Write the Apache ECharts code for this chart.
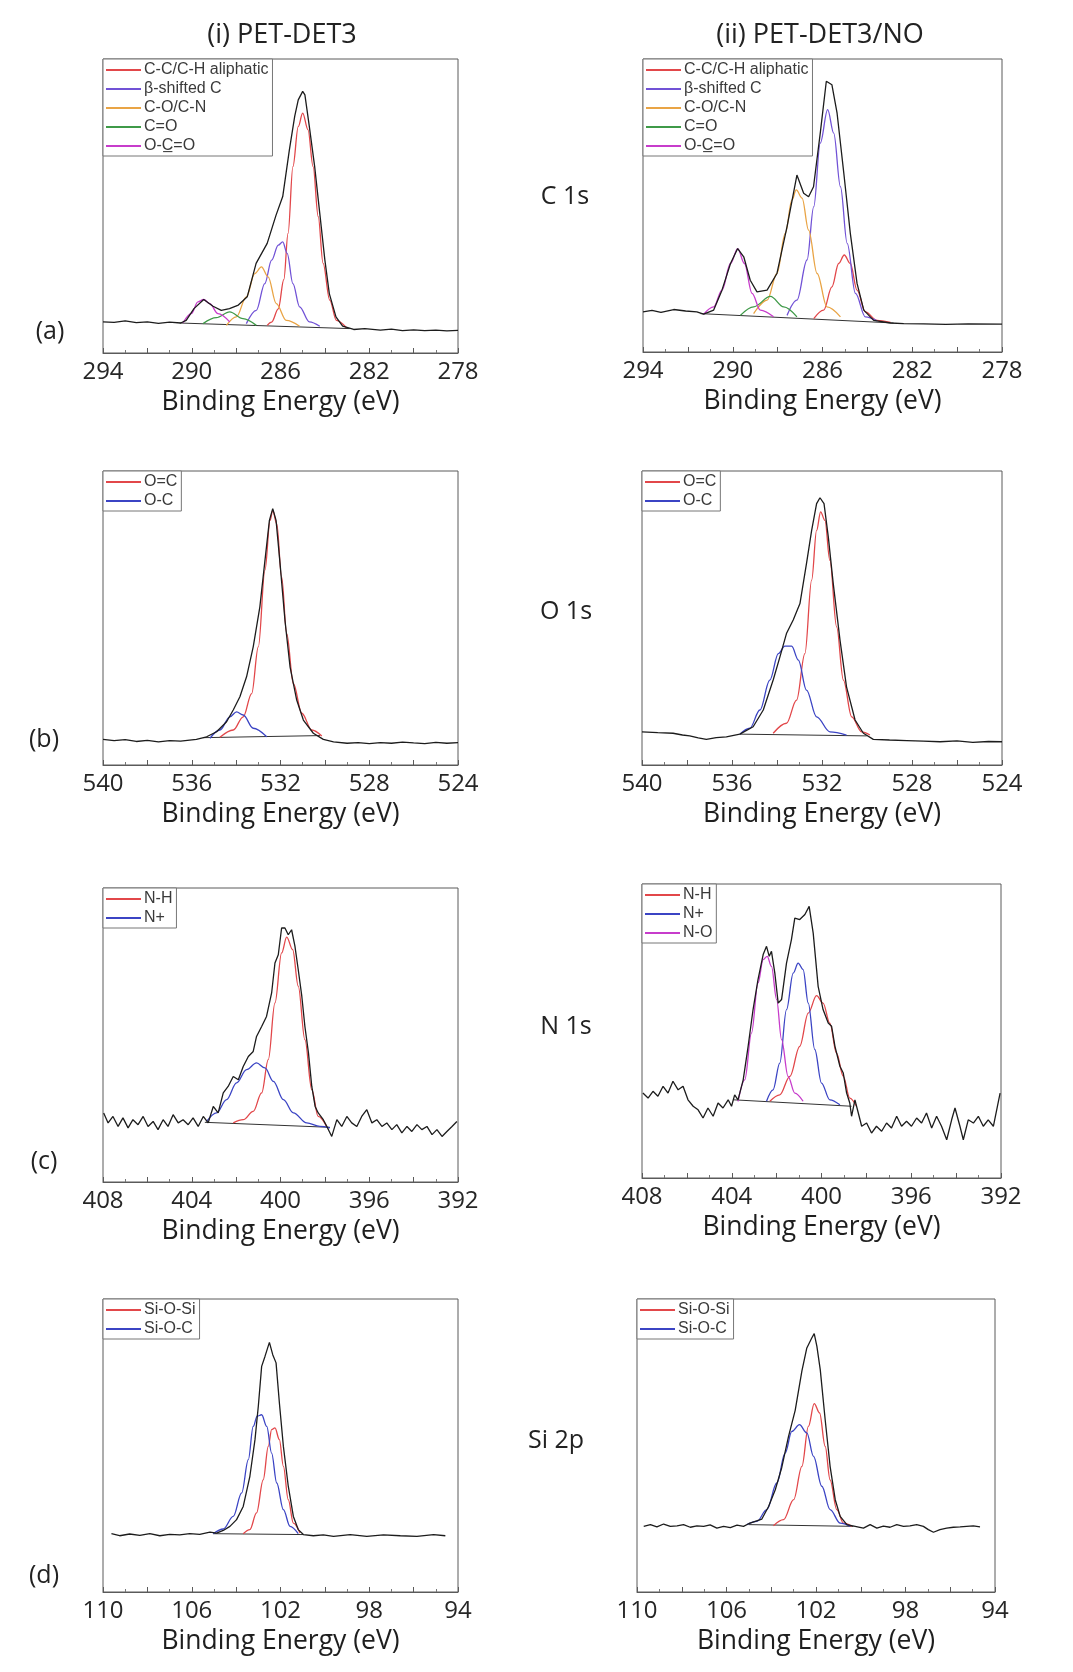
<!DOCTYPE html>
<html><head><meta charset="utf-8">
<script src="https://cdn.jsdelivr.net/npm/echarts/dist/echarts.min.js"></script>
<style>html,body{margin:0;padding:0;background:#fff}#c{width:1073px;height:1672px}</style>
</head><body><div id="c"></div>
<script>
// ---------- text ----------
const columnTitles = ['(i) PET-DET3', '(ii) PET-DET3/NO'];
const rowLetters = ['(a)', '(b)', '(c)', '(d)'];
const coreLevels = ['C 1s', 'O 1s', 'N 1s', 'Si 2p'];
const axisName = 'Binding Energy (eV)';

// ---------- axes ----------
const C_RANGE = [278, 294];  const C_TICKS = [294, 290, 286, 282, 278];
const O_RANGE = [524, 540];  const O_TICKS = [540, 536, 532, 528, 524];
const N_RANGE = [392, 408];  const N_TICKS = [408, 404, 400, 396, 392];
const SI_RANGE = [94, 110];  const SI_TICKS = [110, 106, 102, 98, 94];

// ---------- legend names ----------
const C_NAMES = ['C-C/C-H aliphatic', 'β-shifted C', 'C-O/C-N', 'C=O', 'O-C\u0332=O'];
const O_NAMES = ['O=C', 'O-C'];
const N_NAMES = ['N-H', 'N+', 'N-O'];
const SI_NAMES = ['Si-O-Si', 'Si-O-C'];

// ---------- (a)(i) C 1s PET-DET3 ----------
const a1_env = [[294,10.6],[293.5,10.4],[293,10.9],[292.5,10.3],[292,10.6],[291.5,10.1],[291,10.5],[290.5,10.2],[290.25,11.1],[289.9,15.1],[289.46,18.2],[289.04,15.9],[288.67,14.5],[288.3,15.1],[287.9,16.3],[287.5,19.1],[287.1,30.5],[286.6,37.3],[286.2,46.9],[285.9,53.2],[285.6,69.1],[285.36,80.5],[285.2,86.1],[285.0,89],[284.9,87.8],[284.7,77],[284.46,63.4],[284.23,47.5],[284.0,31.6],[283.8,20.2],[283.5,12.3],[283.2,9.1],[282.7,8],[282.2,8.3],[281.5,7.8],[281,8.1],[280.5,7.6],[280,7.9],[279.5,7.6],[279,7.8],[278.5,7.5],[278,7.7]];
const a1_cc = [[286.6,9.4],[286.4,10.5],[286.1,15],[285.85,25],[285.66,40.7],[285.44,63.4],[285.2,77],[285.0,81.6],[284.76,75.9],[284.53,63.4],[284.3,46.4],[284.08,30.5],[283.78,18],[283.48,11.1],[283.03,8.6]];
const a1_beta = [[287.54,10],[287.09,14.5],[286.71,23.6],[286.4,31.6],[286.1,36.7],[285.9,37.8],[285.7,33.9],[285.44,23.6],[285.14,15.7],[284.7,10.6],[284.23,9.1]];
const a1_co = [[288.44,9.4],[287.99,12.3],[287.54,19.1],[287.16,27],[286.86,29.3],[286.56,25.9],[286.19,16.8],[285.74,11.1],[285.14,9.1]];
const a1_cdo = [[289.49,10],[288.89,12],[288.29,14],[287.69,11.7],[287.09,9.4]];
const a1_ocdo = [[290.4,10.2],[290.02,13.4],[289.72,17.4],[289.46,18.2],[289.19,16.8],[288.82,13.4],[288.29,10.6]];
const a1_bg = [[290.54,10.2],[282.88,8.3]];

// ---------- (a)(ii) C 1s PET-DET3/NO ----------
const a2_env = [[294,13.7],[293.6,14.2],[293.2,13.5],[292.63,14.5],[292.1,14],[291.6,13.7],[291.3,12.9],[290.85,14.3],[290.48,21.1],[290.1,30.2],[289.78,35.3],[289.51,32.5],[289.22,24.5],[288.92,20.5],[288.47,21.1],[288.03,26.8],[287.58,42.8],[287.14,60.4],[286.84,54.2],[286.62,53],[286.4,56.4],[286.1,74.7],[285.83,92.4],[285.58,91.2],[285.35,81.5],[285.05,61],[284.76,40.5],[284.46,23.4],[284.16,14.3],[283.72,10.8],[282.97,9.9],[282.38,9.7],[281.5,9.6],[280.5,9.4],[279.5,9.6],[278,9.5]];
const a2_cc = [[286.39,11.4],[285.95,14.3],[285.58,22.2],[285.28,30.2],[285.03,33.1],[284.76,30.2],[284.46,21.1],[284.09,13.7],[283.57,10.8],[282.97,10.1]];
const a2_beta = [[287.58,12.5],[287.14,17.7],[286.69,31.4],[286.39,49.6],[286.1,71.3],[285.77,82.7],[285.5,74.7],[285.2,56.4],[284.9,37.1],[284.53,20],[284.09,12],[283.57,10.6]];
const a2_co = [[289.07,13.1],[288.47,17.7],[288.03,26.8],[287.66,40.5],[287.36,51.9],[287.17,55.3],[286.91,52.5],[286.62,41.6],[286.24,26.8],[285.8,15.4],[285.2,12]];
const a2_cdo = [[289.66,12.5],[289.07,15.4],[288.32,19],[287.73,15.4],[287.14,12]];
const a2_ocdo = [[291.3,12.9],[290.85,15.4],[290.48,21.1],[290.1,30.2],[289.78,35.3],[289.48,30.2],[289.14,20],[288.77,14.3],[288.18,12]];
const a2_bg = [[291.44,13.1],[282.83,9.9]];

// ---------- (b)(i) O 1s ----------
const b1_env = [[540,8.7],[539.5,8.3],[539,8.6],[538.5,8.0],[538,8.4],[537.5,7.9],[537,8.3],[536.5,8.1],[535.79,8.7],[535.33,9.6],[534.88,11.3],[534.43,14.7],[534.13,18.7],[533.83,23.2],[533.53,30],[533.23,40.2],[532.93,53.8],[532.7,69.6],[532.5,83.2],[532.35,87.2],[532.2,83.2],[532.02,68.5],[531.8,49.3],[531.57,33.4],[531.27,22.1],[530.97,15.3],[530.52,10.8],[530.07,8.7],[529.61,7.9],[529,7.4],[528.5,7.6],[528,7.3],[527.5,7.6],[527,7.4],[526.5,7.8],[526,7.5],[525.5,7.3],[525,7.7],[524.5,7.4],[524,7.6]];
const b1_ocd = [[534.73,9.4],[534.13,11.9],[533.68,16.4],[533.3,24.3],[533,40.2],[532.7,66.3],[532.47,83.2],[532.35,86.6],[532.17,82.1],[531.95,64],[531.72,44.7],[531.42,27.7],[531.04,17.6],[530.59,11.9],[530.14,9.9]];
const b1_oc = [[535.18,9.1],[534.73,11.9],[534.28,16.4],[533.98,18.1],[533.68,17],[533.23,12.5],[532.62,9.6]];
const b1_bg = [[535.48,9.3],[530.22,10.0]];

// ---------- (b)(ii) O 1s ----------
const b2_env = [[540,11.3],[539.3,11.0],[538.62,10.8],[538.2,10.2],[537.88,9.9],[537.5,9.2],[537.14,8.7],[536.7,9.3],[536.25,9.6],[535.65,10.5],[535.06,13],[534.61,18.7],[534.17,28.9],[533.87,36.8],[533.58,44.7],[533.28,49.3],[532.98,54.9],[532.69,68.5],[532.46,79.8],[532.24,88.9],[532.09,90.9],[531.91,88.9],[531.72,77.6],[531.5,61.7],[531.2,42.5],[530.91,26.6],[530.53,15.3],[530.16,10.8],[529.72,8.7],[529,8.5],[528.23,8.3],[527.5,8.1],[526.75,7.9],[526,8.2],[525.3,7.7],[524.6,8.0],[524,7.9]];
const b2_ocd = [[534.17,10.8],[533.58,14.2],[533.13,22.1],[532.76,37.9],[532.46,62.9],[532.24,79.8],[532.06,86.1],[531.87,83.2],[531.65,69.6],[531.35,47],[531.05,28.9],[530.68,16.4],[530.24,11.3],[529.87,10.2]];
const b2_oc = [[535.65,10.5],[535.21,12.5],[534.76,18.7],[534.32,28.9],[533.94,37.9],[533.65,40.4],[533.35,40.4],[533.05,35.7],[532.69,25.5],[532.24,16.4],[531.65,11.3],[530.91,10.2]];
const b2_bg = [[535.65,10.5],[530.01,9.9]];

// ---------- (c)(i) N 1s ----------
const c1_env = [[407.97,23.5],[407.77,20.1],[407.55,22.3],[407.32,18.9],[407.1,21.8],[406.87,18.4],[406.65,21.2],[406.42,19.5],[406.19,22.3],[405.97,18.9],[405.74,20.6],[405.52,17.8],[405.29,21.2],[405.07,18.9],[404.84,22.9],[404.61,20.1],[404.39,21.2],[404.16,19.5],[403.94,21.8],[403.71,18.9],[403.48,22.3],[403.26,20.1],[403.03,25.7],[402.81,23.5],[402.58,30.3],[402.36,32.5],[402.13,35.9],[401.9,34.8],[401.68,39.3],[401.45,42.7],[401.23,44.4],[401.08,49.5],[400.85,52.9],[400.63,56.3],[400.4,64.3],[400.25,74.5],[400.1,77.3],[399.95,86.4],[399.8,86.4],[399.65,84.1],[399.5,85.8],[399.35,80.2],[399.2,72.2],[399.04,63.2],[398.9,52.9],[398.74,43.9],[398.59,32.5],[398.44,25.7],[398.3,23.5],[398.07,21.2],[397.84,17.8],[397.69,15.5],[397.46,21.2],[397.24,18.9],[397.01,22.3],[396.79,20.1],[396.56,18.9],[396.34,22.3],[396.11,24.6],[395.88,20.1],[395.66,21.2],[395.43,18.9],[395.21,20.1],[394.98,17.8],[394.76,19.5],[394.53,16.7],[394.3,18.9],[394.08,17.2],[393.85,19.5],[393.63,17.8],[393.4,18.9],[393.17,16.1],[392.95,17.8],[392.72,15.5],[392.5,17.2],[392.27,18.9],[392.05,20.6]];
const c1_nh = [[402.13,20.1],[401.68,21.2],[401.23,24],[400.85,30.3],[400.55,41.6],[400.25,60.9],[399.95,77.9],[399.72,83.3],[399.45,79],[399.2,66.6],[398.9,48.4],[398.59,31.4],[398.3,22.3],[397.92,18.9]];
const c1_np = [[403.33,20.6],[402.88,23.5],[402.43,28],[401.98,33.7],[401.53,38.2],[401.08,40.5],[400.7,38.8],[400.32,34.2],[399.87,28],[399.42,23.5],[398.82,20.1],[398.22,18.9],[397.77,18.4]];
const c1_bg = [[403.41,20.3],[397.77,18.6]];

// ---------- (c)(ii) N 1s ----------
const c2_env = [[407.96,28.9],[407.73,27.2],[407.51,29.5],[407.29,27.8],[407.06,31.2],[406.84,28.9],[406.62,32.9],[406.39,30],[406.17,31.2],[405.95,26.6],[405.72,24.4],[405.5,23.2],[405.28,20.4],[405.06,23.8],[404.83,21],[404.61,25.5],[404.39,23.8],[404.16,26.6],[404.01,24.4],[403.87,28.3],[403.72,26.6],[403.49,33.4],[403.27,44.8],[403.05,57.3],[402.83,67.5],[402.6,76],[402.45,78.8],[402.33,75.4],[402.23,77.1],[402.08,69.7],[401.93,59.5],[401.78,60.7],[401.56,73.1],[401.34,81.1],[401.19,88.4],[400.97,87.9],[400.74,89.6],[400.55,92.4],[400.37,83.3],[400.15,65.2],[399.93,57.3],[399.7,52.7],[399.55,51.6],[399.4,44.8],[399.18,38],[399.03,35.7],[398.88,28.9],[398.74,25.5],[398.66,21],[398.51,26.6],[398.36,22.1],[398.21,17.6],[397.99,18.7],[397.77,15.3],[397.55,17.6],[397.32,15.9],[397.1,18.7],[396.88,17],[396.65,21],[396.43,17.6],[396.21,19.3],[395.99,17.6],[395.76,20.4],[395.54,18.7],[395.32,22.1],[395.09,17],[394.87,21],[394.65,17.6],[394.42,13],[394.2,19.8],[394.05,23.8],[393.83,17.6],[393.68,13],[393.46,19.8],[393.23,18.7],[393.01,21],[392.79,17.6],[392.57,19.8],[392.34,17.6],[392.16,24.4],[392.04,28.9]];
const c2_nh = [[402.3,26.1],[401.86,28.3],[401.41,34.6],[400.97,44.8],[400.59,56.1],[400.22,62],[399.93,59.5],[399.63,52.7],[399.33,42.5],[399.03,34.6],[398.74,27.2],[398.44,24.4]];
const c2_np = [[402.45,26.1],[402.16,30],[401.86,39.1],[401.56,57.3],[401.26,69.7],[401.04,73.1],[400.82,70.9],[400.59,59.5],[400.3,43.7],[400,32.3],[399.63,26.6],[399.18,24.9]];
const c2_no = [[403.72,26.1],[403.42,33.4],[403.12,49.3],[402.83,66.3],[402.6,74.3],[402.42,75.4],[402.23,72],[402,60.7],[401.78,47.1],[401.49,34.6],[401.19,28.9],[400.82,26.1]];
const c2_bg = [[403.94,26.6],[398.66,24.4]];

// ---------- (d)(i) Si 2p ----------
const d1_env = [[109.62,19.9],[109.25,19.2],[108.8,19.8],[108.34,19.3],[107.89,19.9],[107.44,19.2],[106.99,19.7],[106.54,19.5],[106.09,19.9],[105.64,19.7],[105.18,20.4],[104.88,20.1],[104.58,21],[104.28,22.4],[103.98,24.7],[103.68,29.2],[103.38,39.5],[103.15,52],[103,63.4],[102.85,77],[102.7,80.4],[102.5,85.2],[102.35,81],[102.2,78.2],[102.05,64.5],[101.87,49.7],[101.65,36.1],[101.42,25.8],[101.2,21.3],[100.97,19.6],[100.52,19.2],[100.07,19.5],[99.61,19],[98.86,19.6],[98.11,19],[97.36,19.5],[96.6,19.2],[95.85,19],[95.1,19.6],[94.57,19.2]];
const d1_sios = [[103.68,19.9],[103.38,21.3],[103.08,27],[102.78,38.3],[102.55,49.7],[102.4,55.4],[102.25,56],[102.05,52],[101.87,42.9],[101.65,31.5],[101.42,23.5],[101.12,20.1]];
const d1_sioc = [[105.03,19.9],[104.58,21.5],[104.13,25.8],[103.75,33.8],[103.45,45.2],[103.23,56.5],[103.05,60],[102.85,60.5],[102.62,56.5],[102.4,47.4],[102.17,37.2],[101.87,28.1],[101.57,22.4],[101.2,19.9]];
const d1_bg = [[105.03,19.9],[100.97,19.6]];

// ---------- (d)(ii) Si 2p ----------
const d2_env = [[109.7,22.4],[109.4,23],[109.11,22.2],[108.81,23.2],[108.51,22.4],[108.21,22.6],[107.92,23],[107.62,22.1],[107.32,22.6],[107.02,22.4],[106.73,22.9],[106.43,21.8],[106.13,22.4],[105.83,22],[105.53,22.8],[105.24,22.4],[105.01,23.3],[104.72,24.1],[104.42,24.9],[104.12,29.2],[103.82,34.9],[103.53,42.5],[103.23,53],[102.93,62],[102.63,75.5],[102.41,83.3],[102.19,86.7],[102.08,88.2],[101.96,83.8],[101.81,75.9],[101.59,58.8],[101.37,42.9],[101.14,31.5],[100.92,25.8],[100.62,23],[100.25,22.4],[99.88,21.8],[99.58,23],[99.28,21.8],[98.99,22.5],[98.69,22.1],[98.39,23],[98.09,22.4],[97.8,22.6],[97.5,23],[97.2,22.4],[96.98,21.3],[96.75,20.4],[96.46,21.3],[96.16,21.8],[95.86,22.1],[95.56,22.2],[95.27,22.4],[94.97,22.6],[94.67,22.2]];
const d2_sios = [[103.9,22.6],[103.45,24.7],[103,31.5],[102.63,42.9],[102.34,56.5],[102.08,64.3],[101.84,61.1],[101.59,49.7],[101.37,38.3],[101.07,28.1],[100.77,23.5],[100.4,22.4]];
const d2_sioc = [[105.09,23],[104.64,24.1],[104.2,28.1],[103.75,37.2],[103.38,47.4],[103.08,54.8],[102.74,57.1],[102.41,54.3],[102.11,46.3],[101.74,36.1],[101.37,28.1],[100.92,23.5],[100.47,22.4]];
const d2_bg = [[105.01,23],[100.33,22.4]];

// ---------- styles / layout ----------
const COL = { red:'#e2474a', blue:'#3b44c4', violet:'#7152d6', orange:'#e9a445', green:'#3f9a48', magenta:'#c73ccb', black:'#1c1c1c' };
const LAYOUT = [
  {l:103,t:59,w:355,h:294}, {l:643,t:59,w:359,h:293},
  {l:103,t:471,w:355,h:294}, {l:642,t:471,w:360,h:294},
  {l:103,t:888,w:355,h:294}, {l:642,t:884,w:359,h:294},
  {l:103,t:1299,w:355,h:293}, {l:637,t:1299,w:358,h:293}
];

const PANELS = [
  {range:C_RANGE, ticks:C_TICKS, env:a1_env, bg:a1_bg, comps:[[C_NAMES[0],a1_cc,COL.red],[C_NAMES[1],a1_beta,COL.violet],[C_NAMES[2],a1_co,COL.orange],[C_NAMES[3],a1_cdo,COL.green],[C_NAMES[4],a1_ocdo,COL.magenta]]},
  {range:C_RANGE, ticks:C_TICKS, env:a2_env, bg:a2_bg, comps:[[C_NAMES[0],a2_cc,COL.red],[C_NAMES[1],a2_beta,COL.violet],[C_NAMES[2],a2_co,COL.orange],[C_NAMES[3],a2_cdo,COL.green],[C_NAMES[4],a2_ocdo,COL.magenta]]},
  {range:O_RANGE, ticks:O_TICKS, env:b1_env, bg:b1_bg, comps:[[O_NAMES[0],b1_ocd,COL.red],[O_NAMES[1],b1_oc,COL.blue]]},
  {range:O_RANGE, ticks:O_TICKS, env:b2_env, bg:b2_bg, comps:[[O_NAMES[0],b2_ocd,COL.red],[O_NAMES[1],b2_oc,COL.blue]]},
  {range:N_RANGE, ticks:N_TICKS, env:c1_env, bg:c1_bg, comps:[[N_NAMES[0],c1_nh,COL.red],[N_NAMES[1],c1_np,COL.blue]]},
  {range:N_RANGE, ticks:N_TICKS, env:c2_env, bg:c2_bg, comps:[[N_NAMES[0],c2_nh,COL.red],[N_NAMES[1],c2_np,COL.blue],[N_NAMES[2],c2_no,COL.magenta]]},
  {range:SI_RANGE, ticks:SI_TICKS, env:d1_env, bg:d1_bg, comps:[[SI_NAMES[0],d1_sios,COL.red],[SI_NAMES[1],d1_sioc,COL.blue]]},
  {range:SI_RANGE, ticks:SI_TICKS, env:d2_env, bg:d2_bg, comps:[[SI_NAMES[0],d2_sios,COL.red],[SI_NAMES[1],d2_sioc,COL.blue]]}
];

const FONT = 'Open Sans';
const grid = [], xAxis = [], yAxis = [], series = [], legend = [];
PANELS.forEach((p, i) => {
  const L = LAYOUT[i];
  grid.push({left:L.l, top:L.t, width:L.w, height:L.h, show:true, borderColor:'#5a5a5a', borderWidth:1, backgroundColor:'transparent'});
  xAxis.push({type:'value', gridIndex:i, min:p.range[0], max:p.range[1], interval:2, inverse:true,
    axisLine:{show:true, lineStyle:{color:'#5a5a5a', width:1}},
    axisTick:{show:true, inside:true, length:5, lineStyle:{color:'#5a5a5a'}},
    minorTick:{show:true, splitNumber:2, length:3, lineStyle:{color:'#777'}},
    splitLine:{show:false}, minorSplitLine:{show:false},
    axisLabel:{margin:7, fontFamily:FONT, fontSize:24, color:'#262626',
      formatter:(v)=> p.ticks.indexOf(v) >= 0 ? String(v) : ''},
    name:axisName, nameLocation:'middle', nameGap:36,
    nameTextStyle:{fontFamily:FONT, fontSize:26.5, color:'#1e1e1e'}});
  yAxis.push({type:'value', gridIndex:i, min:0, max:100, axisLine:{show:false}, axisTick:{show:false}, axisLabel:{show:false}, splitLine:{show:false}});
  series.push({type:'line', xAxisIndex:i, yAxisIndex:i, data:p.bg, symbol:'none', silent:true,
    lineStyle:{color:'#333', width:1}, z:2});
  p.comps.forEach(c => {
    series.push({type:'line', name:c[0], xAxisIndex:i, yAxisIndex:i, data:c[1], symbol:'none', color:c[2],
      smooth:0.35, smoothMonotone:'x', lineStyle:{color:c[2], width:1.3}, z:3});
  });
  series.push({type:'line', xAxisIndex:i, yAxisIndex:i, data:p.env, symbol:'none', silent:true,
    lineStyle:{color:COL.black, width:1.3}, z:4});
  legend.push({orient:'vertical', left:L.l, top:L.t, data:p.comps.map(c=>c[0]),
    icon:'rect', itemWidth:35, itemHeight:2, itemGap:3, selectedMode:false,
    padding:[3,4,2,3], borderColor:'#777', borderWidth:1, backgroundColor:'#fff',
    textStyle:{fontFamily:'Liberation Sans', fontSize:16, color:'#3a3a3a', padding:[0,0,0,-2]}});
});

const graphic = [];
const addText = (txt, x, y, size) => graphic.push({type:'text', x:x, y:y,
  style:{text:txt, fontFamily:FONT, fontSize:size, fill:'#222', textAlign:'center', textVerticalAlign:'middle'}});
addText(columnTitles[0], 282, 35, 27);
addText(columnTitles[1], 820, 35, 27);
[[50,332],[44,740],[44,1162],[44,1576]].forEach((pt,k)=>addText(rowLetters[k], pt[0], pt[1], 25));
[[565,197],[566,612],[566,1027],[556,1441]].forEach((pt,k)=>addText(coreLevels[k], pt[0], pt[1], 25));

const chart = echarts.init(document.getElementById('c'), null, {renderer:'canvas'});
chart.setOption({animation:false, backgroundColor:'#fff', grid, xAxis, yAxis, series, legend, graphic});
</script></body></html>
